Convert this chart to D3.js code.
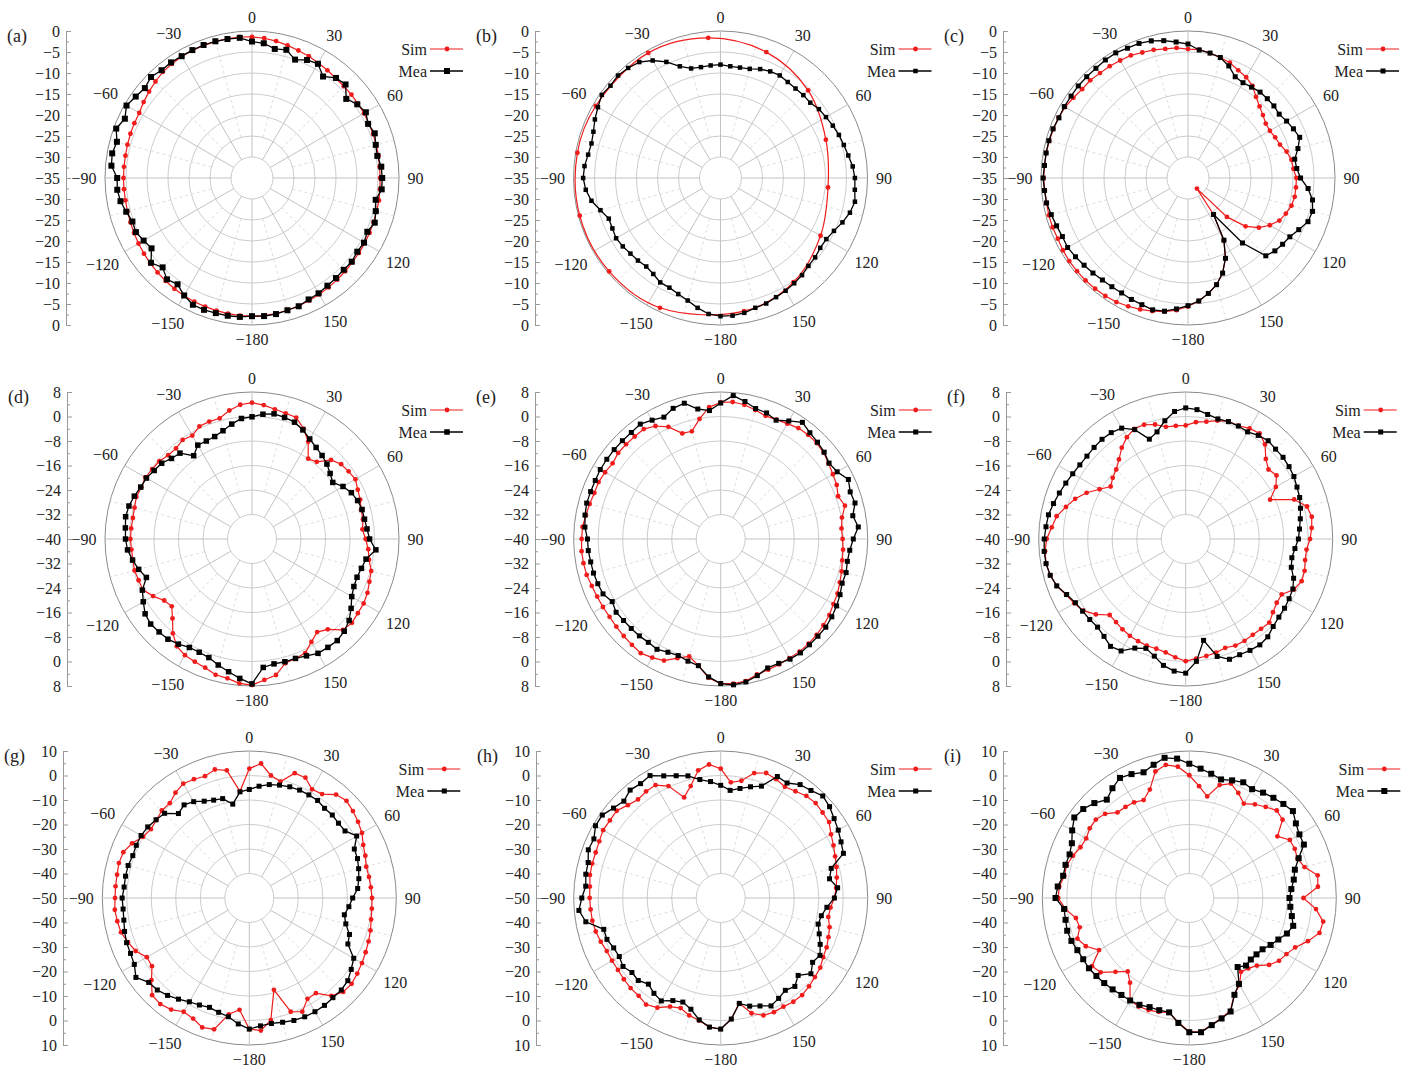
<!DOCTYPE html>
<html>
<head>
<meta charset="utf-8">
<script src="https://cdn.jsdelivr.net/npm/d3@7"></script>
<style>
  body { margin: 0; background: #fff; }
  svg text { font-family: "Liberation Serif", "Times New Roman", serif; fill: #222; }
</style>
</head>
<body>
<svg id="chart" width="1411" height="1073"></svg>
<script>
// measurement angles (deg, 0 = top, clockwise)
const angles = [0,5,10,15,20,25,30,35,40,45,50,55,60,65,70,75,80,85,90,95,100,105,110,115,
  120,125,130,135,140,145,150,155,160,165,170,175,180,185,190,195,200,205,210,215,220,225,230,235,
  240,245,250,255,260,265,270,275,280,285,290,295,300,305,310,315,320,325,330,335,340,345,350,355];

const angleLabels = ["0","30","60","90","120","150","\u2212180","\u2212150","\u2212120","\u221290","\u221260","\u221230"];

const ticksA = ["0","\u22125","\u221210","\u221215","\u221220","\u221225","\u221230","\u221235",
  "\u221230","\u221225","\u221220","\u221215","\u221210","\u22125","0"];
const ticksD = ["8","0","\u22128","\u221216","\u221224","\u221232","\u221240",
  "\u221232","\u221224","\u221216","\u22128","0","8"];
const ticksG = ["10","0","\u221210","\u221220","\u221230","\u221240","\u221250",
  "\u221240","\u221230","\u221220","\u221210","0","10"];

// (a)
const aSim = [-1.4,-1.6,-1.9,-2.3,-2.7,-3.0,-3.4,-3.7,-4.0,-4.1,-4.1,-4.2,-4.2,-4.3,-4.3,-4.4,-4.4,-4.5,
  -4.5,-4.4,-4.3,-4.3,-4.2,-4.1,-4.0,-3.9,-3.8,-3.6,-3.4,-3.2,-3.0,-2.8,-2.6,-2.4,-2.2,-2.1,
  -2.1,-2.1,-2.2,-2.3,-2.4,-2.5,-2.6,-2.8,-3.0,-3.2,-3.4,-3.6,-3.8,-4.0,-4.2,-4.3,-4.4,-4.4,
  -4.4,-4.4,-4.4,-4.3,-4.2,-4.1,-4.0,-3.5,-3.0,-2.5,-2.0,-1.8,-1.6,-1.5,-1.4,-1.4,-1.3,-1.3];
const aMea = [-2.5,-2.8,-3.8,-3.4,-5.0,-4.0,-3.6,-5.5,-3.9,-3.5,-5.7,-4.4,-3.7,-4.5,-3.9,-4.5,-4.7,-4.1,
  -4.0,-4.0,-5.1,-4.5,-3.9,-4.7,-4.2,-4.4,-4.0,-4.1,-3.9,-3.7,-3.3,-3.1,-2.5,-2.4,-2.1,-2.0,
  -2.1,-1.8,-1.7,-1.7,-1.6,-1.7,-2.7,-4.1,-3.5,-4.9,-3.6,-5.8,-5.2,-4.5,-4.7,-4.0,-3.2,-2.8,
  -2.9,-1.4,-1.2,-1.7,-0.6,-1.6,-0.5,-1.2,-1.7,-1.0,-1.5,-1.4,-1.5,-1.4,-1.3,-1.3,-1.4,-1.5];

// (b) simulated curve is smooth with sparse markers
const bSimAngles = [20,45,70,95,120,145,170,205,230,255,280,300,330,355];
const bSim = [-3.1,-5.5,-8.3,-9.3,-7.5,-4.7,-2.8,-0.9,-0.4,-0.3,-0.4,-0.7,-0.6,-1.5];
const bMea = [-8.0,-8.3,-8.3,-8.1,-7.4,-7.0,-6.8,-7.1,-7.2,-7.1,-7.1,-6.4,-6.0,-5.5,-5.0,-4.6,-4.1,-3.4,
  -3.0,-2.9,-2.5,-3.1,-4.1,-5.2,-5.9,-6.0,-5.6,-5.4,-4.8,-4.4,-4.0,-3.7,-3.2,-3.0,-2.4,-2.1,
  -2.1,-2.5,-3.6,-4.8,-5.6,-6.2,-6.3,-7.1,-7.5,-7.2,-7.0,-6.6,-6.3,-6.6,-6.7,-5.4,-3.8,-2.8,
  -2.3,-2.5,-3.0,-3.2,-2.8,-2.0,-1.3,-0.5,-0.8,-0.5,-0.8,-1.3,-2.7,-4.5,-6.7,-8.0,-8.2,-8.1];

// (c)
const cSim = [-4.3,-4.3,-4.8,-5.3,-5.8,-6.7,-7.3,-8.2,-9.8,-10.9,-11.7,-12.4,-12.5,-12.1,-11.7,-10.7,-10.0,-9.8,
  -9.2,-9.2,-9.2,-9.5,-10.2,-11.0,-12.5,-14.4,-17.1,-21.9,-31.7,-24.4,-17.9,-13.9,-10.9,-8.7,-7.1,-5.6,
  -4.4,-3.4,-2.7,-2.2,-1.7,-1.3,-0.9,-0.7,-0.6,-0.5,-0.5,-0.5,-0.6,-0.8,-0.7,-0.7,-0.8,-0.8,
  -0.6,-0.7,-0.7,-0.8,-0.9,-1.0,-1.2,-1.7,-2.1,-2.1,-2.4,-2.5,-2.7,-2.8,-3.2,-3.4,-3.8,-3.9];
const cMea = [-3.1,-4.4,-4.8,-5.3,-6.6,-8.4,-8.8,-8.6,-8.3,-8.3,-8.3,-8.5,-7.9,-7.3,-6.7,-7.9,-9.2,-9.0,
  -8.2,-6.3,-4.9,-4.3,-4.6,-5.9,-7.0,-7.5,-8.0,-8.8,-14.8,-24.4,-17.9,-13.9,-10.9,-8.7,-7.1,-5.6,
  -4.6,-3.7,-2.8,-2.5,-2.9,-3.1,-3.4,-3.4,-3.3,-3.0,-2.7,-2.3,-1.9,-2.0,-1.7,-1.3,-0.8,-0.7,
  -0.5,-0.7,-0.7,-0.7,-0.8,-1.1,-1.0,-1.0,-0.9,-0.9,-0.9,-0.7,-0.6,-0.9,-0.9,-1.2,-1.8,-2.5];

// (d)
const dSim = [4.5,3.9,3.0,2.5,2.2,-0.2,-3.3,-8.0,-7.1,-3.5,-2.0,-1.5,-1.0,-1.9,-2.4,-3.1,-3.2,-3.8,
  -2.9,-1.9,-1.2,0.3,0.8,1.6,2.1,2.2,2.6,2.0,-1.5,-2.9,-1.2,1.1,1.5,2.0,5.1,6.2,
  7.7,7.3,6.2,5.9,4.7,4.2,3.8,2.8,0.2,-3.3,-5.8,-5.0,-2.7,-0.7,-0.6,-0.3,-0.5,-0.5,
  -0.3,-0.4,-0.5,-0.3,0.2,-0.1,0.2,-0.2,-0.5,-1.3,-1.4,-0.5,-1.0,0.6,0.8,0.8,2.6,4.0];
const dMea = [-0.1,0.9,1.5,1.1,0.6,-0.7,-2.3,-3.5,-4.4,-5.4,-6.7,-7.8,-5.7,-4.2,-3.3,-2.8,-2.7,-2.3,
  -1.6,0.6,-2.2,-3.0,-3.5,-3.3,-2.4,-0.5,1.4,2.6,3.3,3.2,3.1,2.1,1.5,1.5,1.4,2.1,
  7.3,5.7,4.0,2.6,1.2,0.8,0.9,1.9,2.7,2.9,3.2,2.6,1.0,-0.5,-3.3,-1.7,-0.4,0.8,
  1.3,1.5,1.9,1.6,0.9,0.1,-0.2,-1.0,-1.5,-2.8,-3.4,-6.8,-4.6,-4.7,-4.4,-3.4,-1.9,-0.5];

// (e)
const eSim = [4.6,4.9,4.5,3.6,2.8,3.0,3.5,4.2,4.4,4.3,3.9,3.0,2.3,1.8,0.8,2.0,0.2,-0.4,
  -0.2,0.1,0.3,0.9,1.4,2.1,2.5,3.3,3.8,4.3,4.6,4.9,4.9,5.2,5.4,5.8,7.1,7.4,
  7.2,5.5,2.0,-0.3,1.4,3.8,4.7,5.5,5.1,4.8,4.5,4.3,4.4,4.5,4.8,5.3,5.5,5.6,
  5.4,5.3,4.7,4.3,3.9,4.0,3.6,3.1,3.7,3.7,3.7,3.8,2.6,0.4,-3.3,-3.6,-0.2,3.2];
const eMea = [4.4,7.0,5.6,4.1,3.8,2.8,4.5,6.5,5.3,4.7,4.1,3.2,3.9,6.0,5.0,5.4,3.8,5.1,
  3.3,2.3,2.0,2.4,2.2,3.0,3.7,4.3,4.8,4.9,5.1,5.4,5.3,4.8,4.8,6.2,7.4,7.8,
  7.2,5.2,2.0,1.3,0.5,0.8,1.6,1.2,1.3,1.3,1.4,1.7,0.9,2.4,2.7,3.0,3.1,3.4,
  3.5,4.5,5.0,5.3,5.2,5.2,5.4,5.4,5.4,5.4,5.4,5.8,4.8,3.9,5.4,5.9,3.1,2.1];

// (f)
const fSim = [-2.9,-1.7,-1.1,0.0,0.9,0.8,1.7,2.1,0.3,-3.0,-4.7,-3.8,-6.0,-9.6,-2.3,1.0,1.8,1.3,
  0.6,-0.4,-0.4,0.2,0.3,-1.0,-3.8,-3.7,-2.8,-1.4,-1.7,-1.8,-1.6,-1.6,-2.2,-1.6,-1.2,-0.8,
  -0.1,-1.2,-2.4,-2.9,-2.9,-3.2,-3.5,-4.0,-4.6,-4.9,-1.7,0.8,2.0,3.1,4.8,5.8,6.3,6.1,
  5.4,3.9,2.8,0.5,-1.6,-4.3,-7.5,-10.1,-8.9,-7.9,-6.1,-3.6,-1.6,-0.3,-0.3,-1.3,-2.8,-2.9];
const fMea = [2.8,2.4,1.3,0.6,0.8,0.7,0.4,1.3,1.9,1.5,1.5,1.2,0.8,0.1,-0.4,-1.2,-2.0,-2.7,
  -3.2,-4.2,-4.8,-4.3,-2.5,-1.4,-1.0,-0.6,-0.3,0.4,1.7,2.2,2.0,1.7,1.8,-0.3,-6.4,0.1,
  3.8,3.3,1.9,-0.4,-2.0,-0.7,2.2,2.8,1.5,0.7,0.9,1.1,1.6,2.9,4.8,5.8,6.3,6.4,
  6.2,5.8,5.5,4.7,3.9,3.2,2.6,2.2,2.1,2.3,2.5,2.4,1.8,-0.6,-5.3,-3.8,-0.8,1.8];

// (g)
const gSim = [2.8,5.1,0.8,-0.8,4.2,4.2,1.2,1.8,5.1,6.1,5.2,4.2,3.1,1.3,0.4,-0.6,-0.4,-0.2,
  0.1,0.2,0.5,1.2,1.8,2.4,3.1,3.8,4.5,4.2,2.1,-2.6,-2.5,1.2,-0.6,-11.2,0.6,4.3,
  3.5,-4.2,-1.8,5.5,6.2,4.3,3.6,5.6,6.5,6.1,2.1,-1.5,-1.7,1.2,2.7,4.2,4.7,5.1,
  4.8,4.8,4.8,5.1,4.7,2.8,0.0,-1.0,-0.5,0.5,0.5,2.5,3.9,3.5,2.9,4.3,2.9,-6.3];
const gMea = [-5.7,-4.2,-3.0,-2.3,-1.7,-1.4,-1.4,-1.4,-2.2,-2.1,-2.5,-2.3,0.6,-2.7,-3.0,-3.8,-4.6,-5.6,
  -7.8,-9.2,-10.6,-9.2,-6.5,-5.6,-0.8,0.8,2.5,3.1,3.1,3.5,3.6,3.5,3.2,2.5,2.0,2.4,
  3.5,1.6,-0.8,-1.7,-2.5,-1.8,-1.1,0.4,1.9,3.1,3.6,6.5,4.2,3.5,3.3,2.7,2.0,1.7,
  1.9,1.3,1.3,1.2,0.6,0.9,1.0,0.6,-0.3,-1.1,-5.0,-3.6,-4.6,-6.4,-7.5,-8.0,-11.1,-6.5];

// (h)
const hSim = [2.8,-2.6,-1.4,2.8,4.3,3.5,2.4,3.2,4.4,4.8,4.3,4.0,2.0,0.8,-0.3,-1.1,-1.9,-2.7,
  -3.6,-5.0,-5.4,-4.0,-3.2,-2.3,-1.7,-0.4,0.2,1.0,1.7,1.7,1.2,1.4,1.0,-1.3,-6.4,-0.4,
  3.5,2.9,0.8,-0.4,-2.2,-1.1,1.7,3.1,2.1,2.0,1.6,1.2,1.2,1.3,2.1,2.8,3.2,3.3,
  3.5,3.6,4.2,4.3,4.3,4.7,5.4,5.2,5.4,3.6,2.5,3.1,3.2,0.4,-6.3,-2.7,2.9,4.7];
const hMea = [-4.0,-5.9,-4.6,-3.0,-1.4,4.7,4.2,6.5,7.3,8.9,8.0,6.5,5.4,4.2,3.3,-3.3,-4.9,-2.1,
  -3.6,-6.5,-8.3,-8.8,-7.2,-5.2,-3.2,-4.2,-1.9,-5.3,-2.9,-4.0,-2.7,-1.4,-3.1,-4.3,-6.3,-0.4,
  3.5,2.9,0.5,-3.0,-4.8,-3.8,-1.5,-2.5,-4.1,-2.4,-2.7,-1.3,-2.2,-1.8,-0.6,-0.6,5.9,8.1,
  6.7,5.3,5.9,6.0,7.5,7.1,9.0,9.0,7.1,5.9,7.5,7.0,7.7,5.0,3.1,1.6,-0.9,-2.3];

// (i)
const iSim = [0.1,-4.2,-7.9,-2.3,-0.3,-2.7,-5.5,-3.3,-1.5,0.5,-0.3,-6.1,-2.6,-2.5,-3.0,-1.3,3.2,2.7,
  -3.4,1.9,5.5,5.0,1.5,-2.3,-4.2,-5.3,-7.5,-11.0,-12.5,-13.2,-9.0,-6.6,-1.0,0.7,2.5,4.8,
  4.6,1.0,-2.6,-1.9,-1.3,-1.1,-1.7,-7.8,-10.9,-7.4,-2.8,-1.5,-7.5,-3.4,-1.4,-3.7,-3.0,0.8,
  3.5,3.3,1.8,1.8,0.5,-1.0,-1.4,-0.4,-0.2,-1.4,-4.4,-4.6,-4.9,-5.9,-2.9,3.5,5.2,3.8];
const iMea = [4.8,3.0,1.5,0.1,1.1,2.1,1.3,2.5,3.4,4.3,5.2,3.1,1.9,1.6,-2.5,-5.4,-6.7,-8.2,
  -9.1,-8.6,-7.5,-6.1,-7.6,-9.9,-11.7,-13.5,-14.2,-14.5,-14.0,-15.6,-9.5,-6.4,-0.7,0.9,2.7,5.0,
  4.8,1.2,-2.6,-2.6,-2.6,-1.9,-1.7,-1.7,-1.3,-0.9,-0.5,0.0,0.0,0.4,1.2,1.6,1.3,1.3,
  4.6,3.9,2.3,2.3,2.0,2.9,5.2,7.3,6.5,4.8,2.4,4.7,6.6,5.8,4.6,6.3,8.1,7.1];

const RED = "#f01c1c", BLACK = "#000";
const R = 147;

const panels = [
  { label: "(a)", cx: 252,   cy: 178, ax: 66,   min: -35, max: 0,  step: 5,  ticks: ticksA, sim: aSim, mea: aMea, sq: 6 },
  { label: "(b)", cx: 720.5, cy: 178, ax: 535,  min: -35, max: 0,  step: 5,  ticks: ticksA, sim: bSim, simAngles: bSimAngles, smooth: true, mea: bMea, sq: 4.5 },
  { label: "(c)", cx: 1188,  cy: 178, ax: 1003, min: -35, max: 0,  step: 5,  ticks: ticksA, sim: cSim, mea: cMea, sq: 5 },
  { label: "(d)", cx: 252,   cy: 539, ax: 67,   min: -40, max: 8,  step: 8,  ticks: ticksD, sim: dSim, mea: dMea, sq: 5.5 },
  { label: "(e)", cx: 720.7, cy: 539, ax: 535,  min: -40, max: 8,  step: 8,  ticks: ticksD, sim: eSim, mea: eMea, sq: 5 },
  { label: "(f)", cx: 1185.7,cy: 539, ax: 1006, min: -40, max: 8,  step: 8,  ticks: ticksD, sim: fSim, mea: fMea, sq: 5 },
  { label: "(g)", cx: 249.3, cy: 898, ax: 63,   min: -50, max: 10, step: 10, ticks: ticksG, sim: gSim, mea: gMea, sq: 5 },
  { label: "(h)", cx: 720.7, cy: 898, ax: 536,  min: -50, max: 10, step: 10, ticks: ticksG, sim: hSim, mea: hMea, sq: 5 },
  { label: "(i)", cx: 1189.3,cy: 898, ax: 1003, min: -50, max: 10, step: 10, ticks: ticksG, sim: iSim, mea: iMea, sq: 6 }
];

const svg = d3.select("#chart");
const rad = d3.scaleLinear().domain([0, 360]).range([0, 2 * Math.PI]);

panels.forEach(p => {
  const g = svg.append("g");
  const r = d3.scaleLinear().domain([p.min, p.max]).range([0, R]);
  const nRings = (p.max - p.min) / p.step;
  const r1 = R / nRings;
  const px = (a, rr) => p.cx + rr * Math.sin(rad(a));
  const py = (a, rr) => p.cy - rr * Math.cos(rad(a));

  // rings
  for (let i = 1; i <= nRings; i++) {
    g.append("circle")
      .attr("cx", p.cx).attr("cy", p.cy).attr("r", r(p.min + i * p.step))
      .attr("fill", "none")
      .attr("stroke", i === nRings ? "#8a8a8a" : "#c6c6c6")
      .attr("stroke-width", i === nRings ? 1 : 0.9);
  }
  // spokes
  for (let a = 0; a < 360; a += 15) {
    const major = a % 30 === 0;
    const rs = major ? r1 : 2 * r1;
    g.append("line")
      .attr("x1", px(a, rs)).attr("y1", py(a, rs))
      .attr("x2", px(a, R)).attr("y2", py(a, R))
      .attr("stroke", major ? "#c2c2c2" : "#d4d4d4")
      .attr("stroke-width", major ? 1 : 0.8)
      .attr("stroke-dasharray", major ? null : "3,3");
  }
  // angle labels: text box kept at a fixed gap from the outer ring
  angleLabels.forEach((t, k) => {
    const a = k * 30;
    const txt = g.append("text")
      .attr("text-anchor", "middle").attr("dominant-baseline", "central")
      .attr("font-size", 16).text(t);
    const w = txt.node().getComputedTextLength();
    const lr = 155.5 + (w / 2) * Math.abs(Math.sin(rad(a))) + 5.5 * Math.abs(Math.cos(rad(a)));
    txt.attr("x", px(a, lr)).attr("y", py(a, lr));
  });

  // radial axis on the left
  const n = p.ticks.length - 1;
  const y = d3.scaleLinear().domain([0, n]).range([p.cy - R, p.cy + R]);
  const axG = g.append("g").attr("transform", `translate(${p.ax},0)`)
    .call(d3.axisLeft(y).tickValues(d3.range(n + 1)).tickFormat(i => p.ticks[i])
      .tickSizeInner(-5).tickSizeOuter(0).tickPadding(6));
  axG.select(".domain").attr("stroke", "#999");
  axG.selectAll(".tick line").attr("stroke", "#999");
  axG.selectAll("text").attr("font-size", 16).attr("fill", "#222")
    .attr("font-family", "Liberation Serif, Times New Roman, serif");
  const minor = g.append("g").attr("transform", `translate(${p.ax},0)`)
    .call(d3.axisLeft(y).tickValues(d3.range(0.5, n, 1)).tickFormat("").tickSizeInner(-3).tickSizeOuter(0));
  minor.select(".domain").remove();
  minor.selectAll(".tick line").attr("stroke", "#999");

  // panel label
  g.append("text").attr("x", p.ax - 59).attr("y", p.cy - R + 11)
    .attr("font-size", 18).text(p.label);

  // curves
  const line = d3.lineRadial()
    .angle(d => rad(d.a))
    .radius(d => r(Math.max(d.v, p.min)));
  const simAngles = p.simAngles || angles;
  const simPts = simAngles.map((a, i) => ({ a: a, v: p.sim[i] }));
  const meaPts = angles.map((a, i) => ({ a: a, v: p.mea[i] }));
  const plot = g.append("g").attr("transform", `translate(${p.cx},${p.cy})`);

  plot.append("path").datum(simPts)
    .attr("d", line.curve(p.smooth ? d3.curveCatmullRomClosed : d3.curveLinearClosed))
    .attr("fill", "none").attr("stroke", RED).attr("stroke-width", 1.2);
  plot.selectAll(".simdot").data(simPts).enter().append("circle")
    .attr("cx", d => r(d.v) * Math.sin(rad(d.a)))
    .attr("cy", d => -r(d.v) * Math.cos(rad(d.a)))
    .attr("r", 2.4).attr("fill", RED);

  plot.append("path").datum(meaPts)
    .attr("d", line.curve(d3.curveLinearClosed))
    .attr("fill", "none").attr("stroke", BLACK).attr("stroke-width", 1.3);
  plot.selectAll(".meadot").data(meaPts).enter().append("rect")
    .attr("x", d => r(d.v) * Math.sin(rad(d.a)) - p.sq / 2)
    .attr("y", d => -r(d.v) * Math.cos(rad(d.a)) - p.sq / 2)
    .attr("width", p.sq).attr("height", p.sq).attr("fill", BLACK);

  // legend
  const lx = p.cx + 175, ly1 = p.cy - 129, ly2 = p.cy - 107;
  g.append("text").attr("x", lx).attr("y", ly1).attr("text-anchor", "end")
    .attr("dominant-baseline", "central").attr("font-size", 16).text("Sim");
  g.append("line").attr("x1", lx + 3).attr("x2", lx + 36).attr("y1", ly1).attr("y2", ly1)
    .attr("stroke", RED).attr("stroke-width", 1.2);
  g.append("circle").attr("cx", lx + 20).attr("cy", ly1).attr("r", 2.4).attr("fill", RED);
  g.append("text").attr("x", lx).attr("y", ly2).attr("text-anchor", "end")
    .attr("dominant-baseline", "central").attr("font-size", 16).text("Mea");
  g.append("line").attr("x1", lx + 3).attr("x2", lx + 36).attr("y1", ly2).attr("y2", ly2)
    .attr("stroke", BLACK).attr("stroke-width", 1.3);
  g.append("rect").attr("x", lx + 20 - p.sq / 2).attr("y", ly2 - p.sq / 2)
    .attr("width", p.sq).attr("height", p.sq).attr("fill", BLACK);
});
</script>
</body>
</html>
